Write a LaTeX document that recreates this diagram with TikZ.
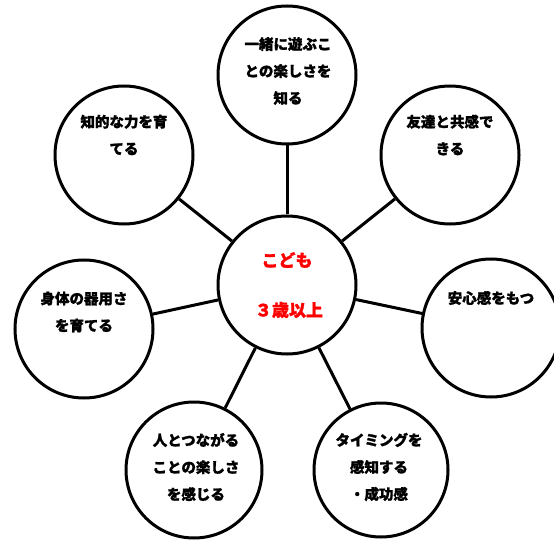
\documentclass[tikz,border=0pt]{standalone}
\usepackage{fontspec}
\newfontfamily\jp{Noto Sans CJK JP}[BoldFeatures={FakeBold=1.2}]
\begin{document}
\begin{tikzpicture}[x=1pt,y=-1pt,
  bub/.style={draw, circle, line width=3pt, minimum size=138pt, inner sep=0pt, fill=white},
  lab/.style={font=\jp\bfseries\fontsize{14.5}{27}\selectfont, align=center, inner sep=0pt},
  mid/.style={font=\jp\bfseries\fontsize{17}{20}\selectfont, text=red, inner sep=0pt},
  link/.style={line width=3pt}]
\useasboundingbox (0,0) rectangle (554,540);
\node[bub] (c)  at (287,285) {};
\node[bub] (t)  at (287,75) {};
\node[bub] (ul) at (124,155) {};
\node[bub] (ur) at (450,155) {};
\node[bub] (l)  at (84,329) {};
\node[bub] (r)  at (491,328) {};
\node[bub, minimum size=136pt] (bl) at (194,470) {};
\node[bub, minimum size=134pt] (br) at (381,470) {};
\foreach \n in {t,ul,ur,l,r,bl,br} \draw[link] (c) -- (\n);
\node[mid] (c1) at (287,260) {こども};
\node[mid] (c2) at (289,310) {３歳以上};
\node[lab] (tt) at (288,71) {一緒に遊ぶこ\\との楽しさを\\知る};
\node[lab] (ult) at (124,135) {知的な力を育\\てる};
\node[lab] (urt) at (450,135) {友達と共感で\\きる};
\node[lab] (lt) at (84,312) {身体の器用さ\\を育てる};
\node[lab] (rt) at (491,298) {安心感をもつ};
\node[lab] (blt) at (196,467) {人とつながる\\ことの楽しさ\\を感じる};
\node[lab] (brt) at (379,467) {タイミングを\\感知する\\・成功感};
\end{tikzpicture}
\end{document}
